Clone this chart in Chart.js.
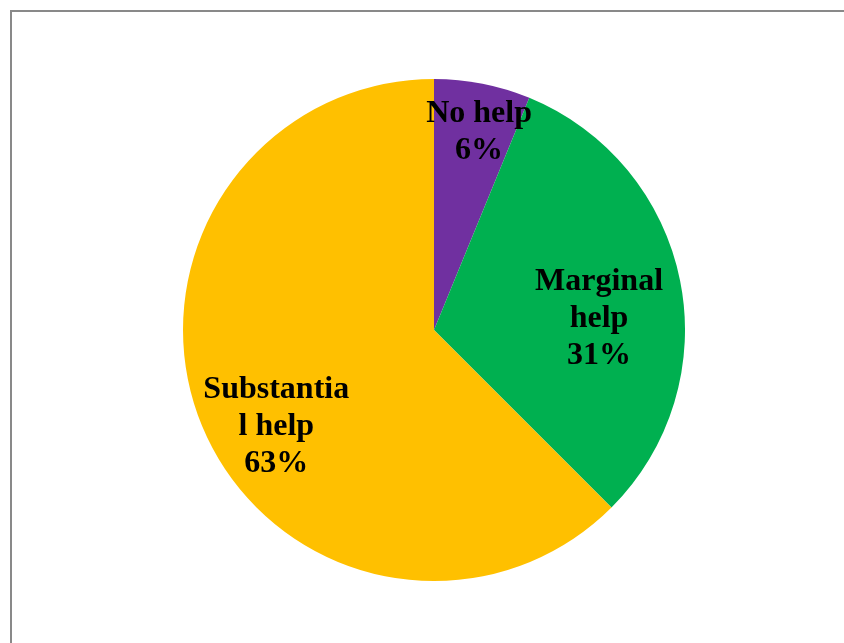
<!DOCTYPE html>
<html>
<head>
<meta charset="utf-8">
<script src="https://cdn.jsdelivr.net/npm/chart.js@4/dist/chart.umd.min.js"></script>
<style>
  html, body { margin: 0; padding: 0; background: #fff; width: 844px; height: 643px; overflow: hidden; }
  #frame { position: absolute; left: 10px; top: 10px; width: 900px; height: 700px; border: 2px solid #898989; box-sizing: border-box; }
  #wrap { position: absolute; left: 183px; top: 79px; width: 502px; height: 502px; }
</style>
</head>
<body>
<div id="frame"></div>
<div id="wrap"><canvas id="c"></canvas></div>
<script>
const categories = ["No help", "Marginal help", "Substantial help"];
const labelLines = [["No help"], ["Marginal", "help"], ["Substantia", "l help"]];
const values = [6.2, 31.3, 62.5];
const colors = ["#7030A0", "#00B050", "#FFC000"];

// label placement: angle shift (deg) from slice middle and radius fraction
const labelPlacement = [
  { shift: 1.5, frac: 0.82 },
  { shift: 6.4, frac: 0.66 },
  { shift: -8.1, frac: 0.73 }
];

const total = values.reduce((a, b) => a + b, 0);

const pieLabels = {
  id: 'pieLabels',
  afterDatasetsDraw(chart) {
    const ctx = chart.ctx;
    const meta = chart.getDatasetMeta(0);
    ctx.save();
    ctx.font = 'bold 32px "Liberation Serif", "Times New Roman", serif';
    ctx.fillStyle = '#000';
    ctx.textAlign = 'center';
    ctx.textBaseline = 'middle';
    const lh = 37;
    const yShift = 3;
    meta.data.forEach((arc, i) => {
      const p = arc.getProps(['x', 'y', 'startAngle', 'endAngle', 'outerRadius'], true);
      const mid = (p.startAngle + p.endAngle) / 2 + labelPlacement[i].shift * Math.PI / 180;
      const r = p.outerRadius * labelPlacement[i].frac;
      const cx = p.x + r * Math.cos(mid);
      const cy = p.y + r * Math.sin(mid) + yShift;
      const lines = labelLines[i].concat([Math.round(values[i] / total * 100) + '%']);
      const y0 = cy - (lines.length - 1) * lh / 2;
      lines.forEach((t, k) => ctx.fillText(t, cx, y0 + k * lh));
    });
    ctx.restore();
  }
};

new Chart(document.getElementById('c'), {
  type: 'pie',
  data: {
    labels: categories,
    datasets: [{ data: values, backgroundColor: colors, borderWidth: 0 }]
  },
  options: {
    responsive: true,
    maintainAspectRatio: false,
    animation: false,
    layout: { padding: 0 },
    plugins: { legend: { display: false }, tooltip: { enabled: false } }
  },
  plugins: [pieLabels]
});
</script>
</body>
</html>
